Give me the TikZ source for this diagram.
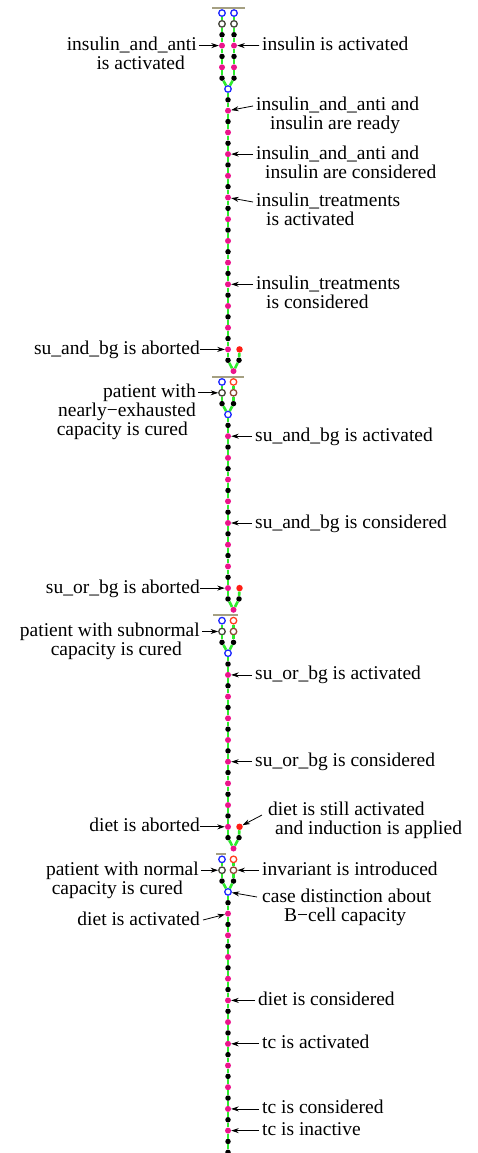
\documentclass[tikz,border=0pt]{standalone}
\usepackage{fontspec}
\setmainfont{Liberation Serif}
\usetikzlibrary{arrows.meta}
\definecolor{lg}{RGB}{45,235,45}
\definecolor{mg}{RGB}{235,20,140}
\definecolor{rd}{RGB}{255,30,20}
\definecolor{bl}{RGB}{30,40,255}
\definecolor{gy}{RGB}{70,70,60}
\definecolor{orr}{RGB}{255,60,30}
\definecolor{brn}{RGB}{140,70,50}
\definecolor{rulec}{RGB}{165,160,130}
\tikzset{
  tk/.style={circle,fill=black,inner sep=0pt,minimum size=5.5pt},
  tm/.style={circle,fill=mg,inner sep=0pt,minimum size=6pt},
  tr/.style={circle,fill=rd,inner sep=0pt,minimum size=6.5pt},
  oc/.style={circle,draw=#1,fill=white,line width=1.3pt,inner sep=0pt,minimum size=6.5pt},
  tb/.style={oc=bl},
  tg/.style={oc=gy},
  to/.style={oc=orr},
  tn/.style={oc=brn},
  gline/.style={draw=lg,line width=2.6pt},
  rulebar/.style={draw=rulec,line width=2pt},
  lab/.style={font=\fontsize{19.5}{19}\selectfont,inner sep=0pt},
  arr/.style={-{Stealth[length=7.5pt,width=5pt]},line width=0.8pt},
}
\newcommand\yk[1]{89+10.85*(#1)}
\begin{document}
\begin{tikzpicture}[x=1pt,y=-1pt]
\useasboundingbox[fill=white] (0,0) rectangle (477,1153);
% ---------- top branches
\foreach \j/\t in {7/tb,6/tg,5/tk,4/tm,3/tk,2/tm,1/tk}{
  \node[\t] (tl\j) at (222,{89-10.85*\j}) {};
  \node[\t] (tr\j) at (234,{89-10.85*\j}) {};
}
\node[tb] (s0) at (228,89) {};
\foreach \j [evaluate=\j as \i using int(\j-1)] in {7,...,2}{
  \draw[gline] (tl\j) -- (tl\i);
  \draw[gline] (tr\j) -- (tr\i);
}
\draw[gline] (tl1) -- (s0);
\draw[gline] (tr1) -- (s0);
\draw[rulebar] (212,8) -- (245,8);
% ---------- spine segments
\foreach \a/\b in {1/24,31/46,53/68,75/97}{
  \foreach \k in {\a,...,\b}{
    \pgfmathtruncatemacro\od{mod(\k,2)}
    \ifnum\od=1 \node[tk] (s\k) at (228,{\yk{\k}}) {};
    \else \node[tm] (s\k) at (228,{\yk{\k}}) {};\fi
  }
}
\node[tk] (s98) at (228,{\yk{98}}) {};
% ---------- merges and branches
\foreach \m/\n/\p in {24/25/26,46/47/48,68/69/70}{
  \node[tr] (r\m) at (239.5,{\yk{\m}}) {};
  \node[tk] (s\n) at (228,{\yk{\n}}) {};
  \node[tk] (r\n) at (239,{\yk{\n}}) {};
  \node[tm] (s\p) at (233.5,{\yk{\p}}) {};
  \draw[gline] (s\m) -- (s\n);
  \draw[gline] (r\m) -- (r\n);
  \draw[gline] (s\n) -- (s\p);
  \draw[gline] (r\n) -- (s\p);
}
\draw[rulebar] (212,{\yk{26.5}}) -- (244,{\yk{26.5}});
\draw[rulebar] (213,{\yk{48.5}}) -- (238,{\yk{48.5}});
\draw[rulebar] (216,{\yk{70.5}}) -- (226,{\yk{70.5}});
\foreach \q in {27,49,71}{
  \pgfmathtruncatemacro\qa{\q+1}
  \pgfmathtruncatemacro\qb{\q+2}
  \pgfmathtruncatemacro\qc{\q+3}
  \node[tb] (l\q) at (222,{\yk{\q}}) {};
  \node[to] (r\q) at (233.5,{\yk{\q}}) {};
  \node[tg] (l\qa) at (222,{\yk{\qa}}) {};
  \node[tn] (r\qa) at (233.5,{\yk{\qa}}) {};
  \node[tk] (l\qb) at (222,{\yk{\qb}}) {};
  \node[tk] (r\qb) at (233.5,{\yk{\qb}}) {};
  \node[tb] (s\qc) at (228,{\yk{\qc}}) {};
  \draw[gline] (l\q) -- (l\qa);
  \draw[gline] (l\qa) -- (l\qb);
  \draw[gline] (l\qb) -- (s\qc);
  \draw[gline] (r\q) -- (r\qa);
  \draw[gline] (r\qa) -- (r\qb);
  \draw[gline] (r\qb) -- (s\qc);
}
\foreach \k [evaluate=\k as \i using int(\k-1)] in {1,...,24,31,32,...,46,53,54,...,68,75,76,...,98}{
  \draw[gline] (s\i) -- (s\k);
}
\coordinate (bot) at (228,1165);
\draw[gline] (s98) -- (bot);
% ---------- left labels (base = last line)
\node[lab,align=right,anchor=base east] (L1) at (197,{45.6+5+19}) {insulin\_and\_anti\\is activated\hspace*{12pt}};
\coordinate (L1t) at (199,45.6);
\draw[arr] (L1t) -- (tl4);
\node[lab,anchor=base east] (L2) at (200,{\yk{24}+5}) {su\_and\_bg is aborted};
\draw[arr] (L2.east |- s24) -- (s24);
\node[lab,align=right,anchor=base east] (L3) at (196,{\yk{28}+5+38}) {patient with\\nearly−exhausted\hspace*{10pt}\\capacity is cured\hspace*{8pt}};
\coordinate (L3t) at (198,{\yk{28}});
\draw[arr] (L3t) -- (l28);
\node[lab,anchor=base east] (L4) at (200,{\yk{46}+5}) {su\_or\_bg is aborted};
\draw[arr] (L4.east |- s46) -- (s46);
\node[lab,align=right,anchor=base east] (L5) at (200,{\yk{50}+5+19}) {patient with subnormal\\capacity is cured\hspace*{18pt}};
\coordinate (L5t) at (202,{\yk{50}});
\draw[arr] (L5t) -- (l50);
\node[lab,anchor=base east] (L6) at (200,{\yk{68}+5}) {diet is aborted};
\draw[arr] (L6.east |- s68) -- (s68);
\node[lab,align=right,anchor=base east] (L7) at (199,{\yk{72}+5+19}) {patient with normal\\capacity is cured\hspace*{16pt}};
\coordinate (L7t) at (201,{\yk{72}});
\draw[arr] (L7t) -- (l72);
\node[lab,anchor=base east] (L8) at (200,925) {diet is activated};
\coordinate (L8t) at (203,920);
\draw[arr] (L8t) -- (s76);
% ---------- right labels
\node[lab,anchor=base west] (R1) at (262,{45.6+5}) {insulin is activated};
\coordinate (R1t) at (259,45.6);
\draw[arr] (R1t) -- (tr4);
\node[lab,align=left,anchor=base west] (R2) at (256,130) {insulin\_and\_anti and\\\hspace*{14pt}insulin are ready};
\coordinate (R2t) at (253,106);
\draw[arr] (R2t) -- (s2);
\node[lab,align=left,anchor=base west] (R3) at (256,{\yk{6}+5+19}) {insulin\_and\_anti and\\\hspace*{9pt}insulin are considered};
\coordinate (R3t) at (253,{\yk{6}});
\draw[arr] (R3t) -- (s6);
\node[lab,align=left,anchor=base west] (R4) at (256,225) {insulin\_treatments\\\hspace*{10pt}is activated};
\coordinate (R4t) at (253,202);
\draw[arr] (R4t) -- (s10);
\node[lab,align=left,anchor=base west] (R5) at (256,{\yk{18}+5+19}) {insulin\_treatments\\\hspace*{10pt}is considered};
\coordinate (R5t) at (253,{\yk{18}});
\draw[arr] (R5t) -- (s18);
\foreach \k/\tx/\xx in {32/su\_and\_bg is activated/255,40/su\_and\_bg is considered/255,54/su\_or\_bg is activated/255,62/su\_or\_bg is considered/255,84/diet is considered/258,88/tc is activated/262,94/tc is considered/262,96/tc is inactive/262}{
  \node[lab,anchor=base west] (R\k) at (\xx,{\yk{\k}+5}) {\tx};
  \coordinate (R\k t) at ({\xx-3},{\yk{\k}});
  \draw[arr] (R\k t) -- (s\k);
}
\node[lab,anchor=base west,align=left] (R10) at (268,834) {diet is still activated\\\hspace*{7pt}and induction is applied};
\coordinate (R10t) at (262,815);
\draw[arr] (R10t) -- (r68);
\node[lab,anchor=base west] (R11) at (262,{\yk{72}+5}) {invariant is introduced};
\coordinate (R11t) at (259,{\yk{72}});
\draw[arr] (R11t) -- (r72);
\node[lab,align=left,anchor=base west] (R12) at (262,921) {case distinction about\\\hspace*{22pt}B−cell capacity};
\coordinate (R12t) at (257,897);
\draw[arr] (R12t) -- (s74);
\end{tikzpicture}
\end{document}
